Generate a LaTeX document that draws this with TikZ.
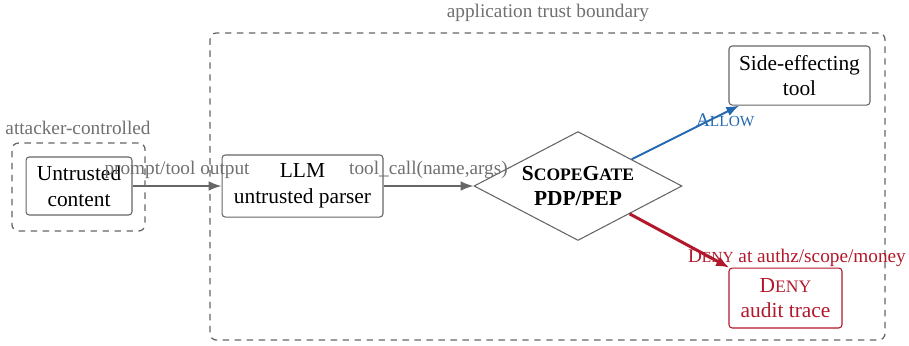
\documentclass[tikz,border=0pt]{standalone}
\usepackage{fontspec}
\setmainfont{Liberation Serif}
\usetikzlibrary{shapes.geometric,arrows.meta}
\definecolor{lblgray}{HTML}{707070}
\definecolor{linegray}{HTML}{666666}
\definecolor{allowblue}{HTML}{2468B0}
\definecolor{denyred}{HTML}{B2182B}
\newcommand\scA[1]{{\fontsize{8.2}{9}\selectfont #1}}
\newcommand\scB[1]{{\fontsize{7.2}{8}\selectfont #1}}
\tikzset{
  box/.style={draw=linegray, line width=0.5pt, rounded corners=1.5pt, align=center,
    font=\fontsize{10}{12}\selectfont, inner sep=2pt},
  zone/.style={draw=linegray, line width=0.6pt, dash pattern=on 3pt off 2.6pt, rounded corners=3pt},
  lbl/.style={text=lblgray, font=\fontsize{9}{10.5}\selectfont},
  flow/.style={draw=linegray, line width=0.7pt, -{Latex[length=6pt,width=4.5pt]}},
  gate/.style={diamond, aspect=1.9, draw=linegray, line width=0.5pt, align=center, inner sep=0pt,
    font=\fontsize{10}{12}\selectfont\bfseries},
}
\begin{document}
\begin{tikzpicture}[x=0.4673pt, y=-0.4673pt]
\useasboundingbox (0,0) rectangle (909,345);
% zones
\node[zone, minimum width=315.4pt, minimum height=143.5pt] (trust) at (547.5,186.5) {};
\node[zone, minimum width=62.2pt, minimum height=41.1pt] (attacker) at (78.5,187) {};
\node[lbl] (trustlbl) at (548,13) {application trust boundary};
\node[lbl] (attlbl) at (78,128) {attacker-controlled};
% nodes
\node[box, minimum width=49.5pt, minimum height=27.1pt] (untrusted) at (79,186) {Untrusted\\content};
\node[box, minimum width=75.2pt, minimum height=29pt] (llm) at (302.5,186) {LLM\\untrusted parser};
\node[gate, minimum width=97.2pt, minimum height=50.9pt] (scope) at (578,186) {S\scA{COPE}G\scA{ATE}\\PDP/PEP};
\node[box, minimum width=65.9pt, minimum height=27.6pt] (tool) at (799.5,75.5) {Side-effecting\\tool};
\node[box, draw=denyred, text=denyred, minimum width=52.8pt, minimum height=28pt] (deny) at (785.5,298) {D\scA{ENY}\\audit trace};
% connectors
\draw[flow] (untrusted) -- node[lbl, midway, above, inner sep=3pt] {prompt/tool output} (llm);
\draw[flow] (llm) -- node[lbl, midway, above, inner sep=3pt] {tool\_call(name,args)} (scope);
\draw[draw=allowblue, line width=0.9pt, -{Latex[length=6pt,width=4.5pt]}] (scope) -- node[pos=0.87, below, inner sep=0pt, text=allowblue, font=\fontsize{9}{10.5}\selectfont] {A\scB{LLOW}} (tool);
\draw[draw=denyred, line width=1.4pt, -{Latex[length=6pt,width=5pt]}] (scope) -- node[pos=0.9, xshift=36.4pt, yshift=2.1pt, text=denyred, font=\fontsize{9}{10.5}\selectfont] {D\scB{ENY} at authz/scope/money} (deny);
\end{tikzpicture}
\end{document}
